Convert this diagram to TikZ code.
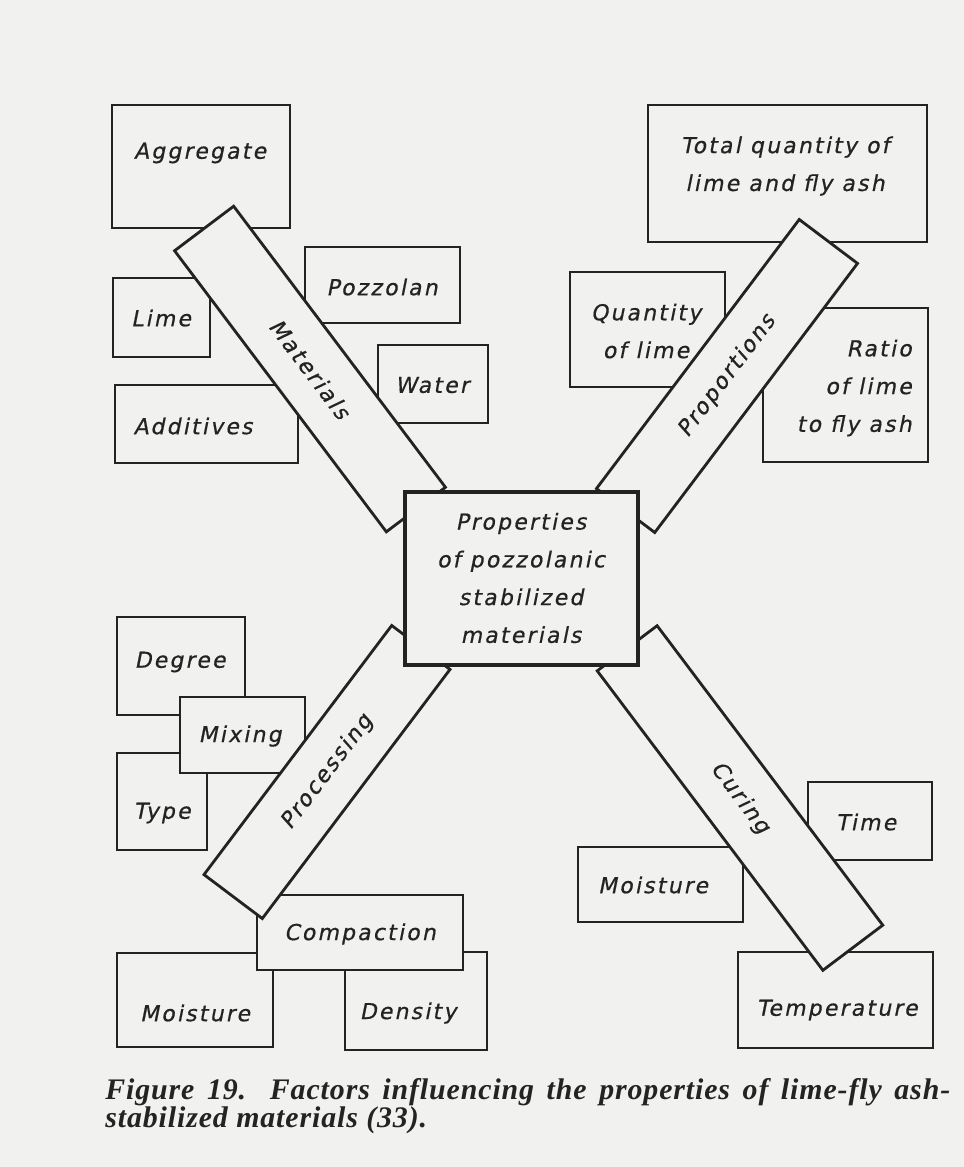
\documentclass[tikz,border=0pt]{standalone}
\usepackage{fontspec}
\usepackage{tikz}
\usetikzlibrary{fit, positioning}
\newfontfamily\letfont{DejaVu Sans}[FakeSlant=0.2, FakeBold=0.6, LetterSpace=10]
\newfontfamily\capfont{Liberation Serif}[LetterSpace=3]
\definecolor{paper}{RGB}{241,241,239}
\definecolor{ink}{RGB}{35,35,35}
\tikzset{
  factor/.style={
    rectangle, draw=ink, line width=1.4pt,
    fill=paper, inner sep=0pt
  },
  factext/.style={
    font=\letfont\fontsize{12.5}{21.5}\selectfont,
    text=ink, align=center, inner sep=0pt
  },
  bar/.style={
    rectangle, draw=ink, line width=1.6pt,
    fill=paper, inner sep=0pt,
    font=\letfont\fontsize{12.5}{21.5}\selectfont, text=ink
  },
  core/.style={
    rectangle, draw=ink, line width=2.4pt,
    fill=paper, inner sep=0pt
  },
  captext/.style={
    font=\capfont\bfseries\itshape\fontsize{17}{19}\selectfont,
    text=ink, inner sep=0pt
  }
}

\begin{document}
\begin{tikzpicture}[x=0.02cm, y=-0.02cm]
  \fill[paper] (0,0) rectangle (964,1167);
  \useasboundingbox (0,0) rectangle (964,1167);

  \node[factor, fit={(112,105) (290,228)}] (aggregate) {};
  \node[factext] (aggregate-t) at (200,153) {Aggregate};
  \node[factor, fit={(113,278) (210,357)}] (lime) {};
  \node[factext] (lime-t) at (161,318) {Lime};
  \node[factor, fit={(305,247) (460,323)}] (pozzolan) {};
  \node[factext] (pozzolan-t) at (382,287) {Pozzolan};
  \node[factor, fit={(378,345) (488,423)}] (water) {};
  \node[factext] (water-t) at (432,385) {Water};
  \node[factor, fit={(115,385) (298,463)}] (additives) {};
  \node[factext] (additives-t) at (193,426) {Additives};

  \node[factor, fit={(648,105) (927,242)}] (total) {};
  \node[factext] (total-t) at (785,166) {Total quantity of\\lime and fly ash};
  \node[factor, fit={(570,272) (725,387)}] (quantity) {};
  \node[factext] (quantity-t) at (646,331) {Quantity\\of lime};
  \node[factor, fit={(763,308) (928,462)}] (ratio) {};
  \node[factext, align=right, anchor=east] (ratio-t) at (912,388) {Ratio\\of lime\\to fly ash};

  \node[factor, fit={(117,617) (245,715)}] (degree) {};
  \node[factext] (degree-t) at (180,662) {Degree};
  \node[factor, fit={(117,753) (207,850)}] (type) {};
  \node[factext] (type-t) at (162,813) {Type};
  \node[factor, fit={(180,697) (305,773)}] (mixing) {};
  \node[factext] (mixing-t) at (240,736) {Mixing};
  \node[factor, fit={(117,953) (273,1047)}] (moisture-p) {};
  \node[factext] (moisture-p-t) at (195,1013) {Moisture};
  \node[factor, fit={(345,952) (487,1050)}] (density) {};
  \node[factext] (density-t) at (408,1013) {Density};
  \node[factor, fit={(257,895) (463,970)}] (compaction) {};
  \node[factext] (compaction-t) at (360,934) {Compaction};

  \node[factor, fit={(808,782) (932,860)}] (time) {};
  \node[factext] (time-t) at (866,822) {Time};
  \node[factor, fit={(578,847) (743,922)}] (moisture-c) {};
  \node[factext] (moisture-c-t) at (653,885) {Moisture};
  \node[factor, fit={(738,952) (933,1048)}] (temperature) {};
  \node[factext] (temperature-t) at (837,1010) {Temperature};

  \node[bar, minimum width=7.04cm, minimum height=1.48cm, rotate=-53] (materials) at (310,369) {Materials};
  \node[bar, minimum width=6.74cm, minimum height=1.46cm, rotate=53] (proportions) at (727,376) {Proportions};
  \node[bar, minimum width=6.24cm, minimum height=1.46cm, rotate=53] (processing) at (327,772) {Processing};
  \node[bar, minimum width=7.5cm, minimum height=1.5cm, rotate=-53] (curing) at (740,798) {Curing};

  \node[core, fit={(405,492) (638,665)}] (properties) {};
  \node[factext] (properties-t) at (521,578) {Properties\\of pozzolanic\\stabilized\\materials};

  \node[captext, anchor=base west] (caption-a) at (105,1099)
    {\makebox[16.9cm][s]{Figure 19. Factors influencing the properties of lime-fly ash-}};
  \node[captext, anchor=base west] (caption-b) at (105,1127) {stabilized materials (33).};
\end{tikzpicture}
\end{document}
